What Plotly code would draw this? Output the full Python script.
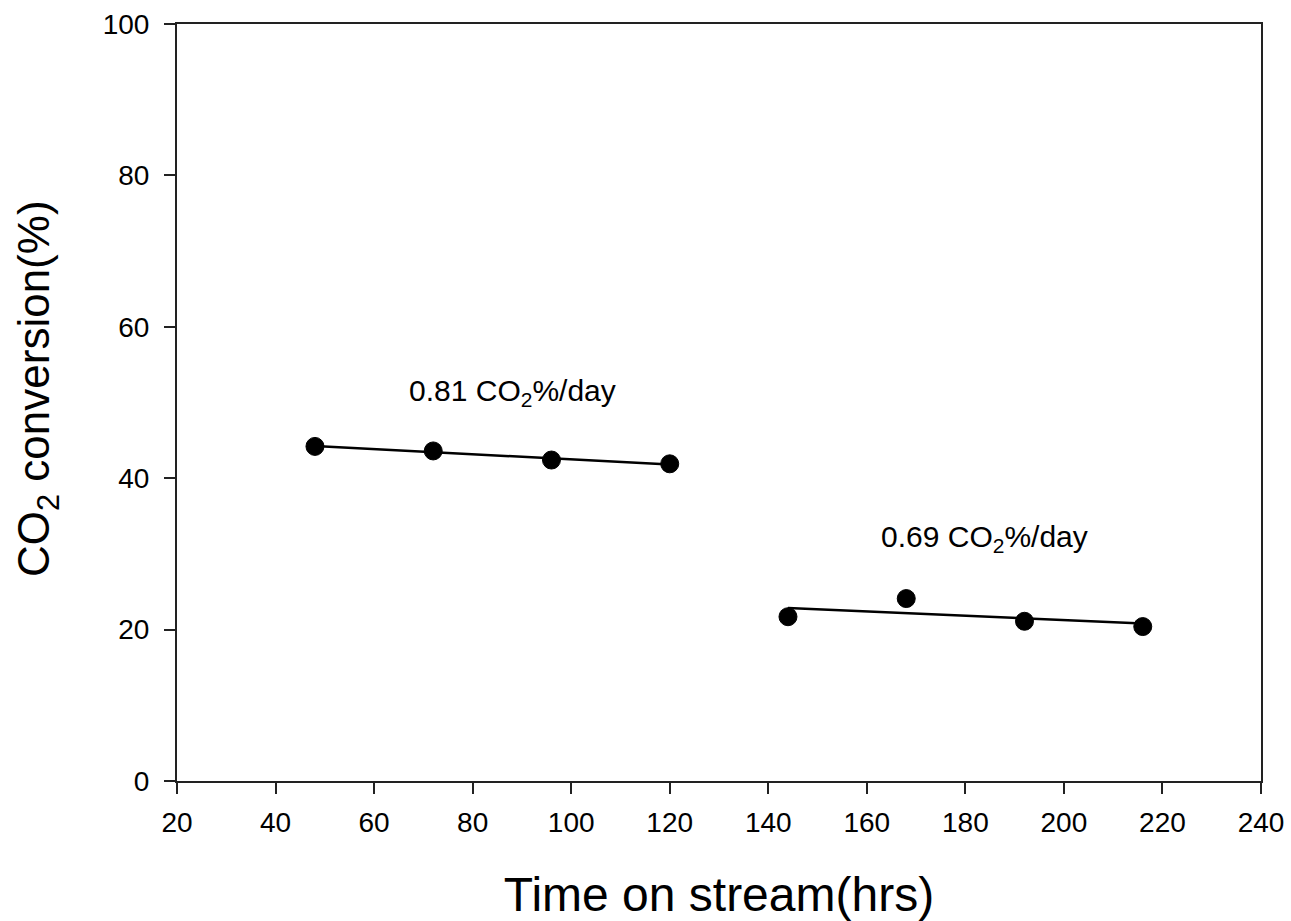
import numpy as np
import plotly.graph_objects as go

# Data
time_a = [48, 72, 96, 120]
conv_a = [44.2, 43.6, 42.4, 41.9]
time_b = [144, 168, 192, 216]
conv_b = [21.7, 24.1, 21.1, 20.4]

label_a = "0.81 CO<sub>2</sub>%/day"
label_b = "0.69 CO<sub>2</sub>%/day"
label_pos_a = (88.0, 51.3)
label_pos_b = (183.9, 32.1)

x_ticks = list(range(20, 241, 20))
y_ticks = list(range(0, 101, 20))

FONT = "Arial, 'Liberation Sans', sans-serif"

fig = go.Figure()

for tx, cy in [(time_a, conv_a), (time_b, conv_b)]:
    k, b = np.polyfit(tx, cy, 1)
    fit_x = [tx[0], tx[-1]]
    fit_y = [k * v + b for v in fit_x]
    fig.add_trace(go.Scatter(x=fit_x, y=fit_y, mode="lines",
                             line=dict(color="black", width=2.5),
                             showlegend=False, hoverinfo="skip"))
    fig.add_trace(go.Scatter(x=tx, y=cy, mode="markers",
                             marker=dict(color="black", size=18,
                                         line=dict(color="black", width=1)),
                             showlegend=False))

for txt, (ax_, ay_) in [(label_a, label_pos_a), (label_b, label_pos_b)]:
    fig.add_annotation(x=ax_, y=ay_, text=txt, showarrow=False,
                       font=dict(family=FONT, size=30, color="black"),
                       xanchor="center", yanchor="middle")

# y-axis title (placed as paper annotation for exact position)
fig.add_annotation(x=-0.129, y=0.518, xref="paper", yref="paper",
                   text="CO<sub>2</sub> conversion(%)", textangle=-90,
                   showarrow=False, xanchor="center", yanchor="middle",
                   font=dict(family=FONT, size=44, color="black"))

axis_common = dict(showline=True, linecolor="#222", linewidth=2, mirror=True,
                   ticks="outside", ticklen=11, tickwidth=1.5, tickcolor="#222",
                   showgrid=False, zeroline=False,
                   tickfont=dict(family=FONT, size=28, color="black"))

fig.update_xaxes(range=[20, 240], tickvals=x_ticks, ticklabelstandoff=4,
                 **axis_common,
                 title=dict(text="Time on stream(hrs)", standoff=50,
                            font=dict(family=FONT, size=48, color="black")))
fig.update_yaxes(range=[0, 100], tickvals=y_ticks, ticklabelstandoff=9,
                 **axis_common)

fig.update_layout(width=1291, height=921,
                  margin=dict(l=177, r=30, t=24, b=140, autoexpand=False),
                  plot_bgcolor="white", paper_bgcolor="white")

fig.write_html("out.html", config={"displayModeBar": False},
               post_script="document.body.style.margin='0';document.body.style.overflow='hidden';")
